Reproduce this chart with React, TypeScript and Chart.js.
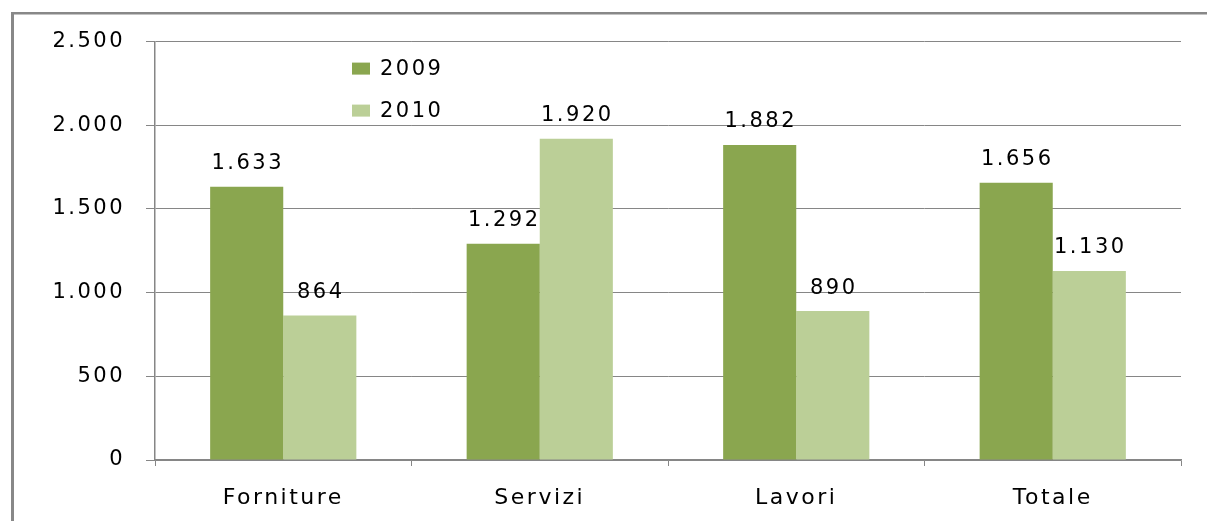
import React, { useEffect, useRef } from 'react';
import { Chart, registerables } from 'chart.js';

Chart.register(...registerables);

const categories = ['Forniture', 'Servizi', 'Lavori', 'Totale'];
const seriesNames = ['2009', '2010'];
const values2009 = [1633, 1292, 1882, 1656];
const values2010 = [864, 1920, 890, 1130];
const yTicks = [0, 500, 1000, 1500, 2000, 2500];

const colorDark = '#8aa64f';
const colorLight = '#bbcf97';
const gridColor = '#868686';
const FONT_FAMILY = '"DejaVu Sans", Verdana, sans-serif';
const SPACING = '2.5px';
const W = 1199;
const H = 513;

const fmt = (v: number) => String(v).replace(/\B(?=(\d{3})+(?!\d))/g, '.');

const spacingPlugin = {
  id: 'letterSpacing',
  beforeUpdate(chart: any) {
    (chart.ctx as any).letterSpacing = SPACING;
  },
  beforeLayout(chart: any) {
    (chart.ctx as any).letterSpacing = SPACING;
  },
  beforeDraw(chart: any) {
    const ctx = chart.ctx;
    (ctx as any).letterSpacing = SPACING;
    ctx.save();
    ctx.fillStyle = '#ffffff';
    ctx.fillRect(0, 0, chart.width, chart.height);
    ctx.fillStyle = '#888888';
    ctx.fillRect(3, 4, 3, chart.height);
    ctx.fillRect(3, 4, chart.width, 2.5);
    ctx.restore();
  },
};

const dataLabelPlugin = {
  id: 'dataLabels',
  afterDatasetsDraw(chart: any) {
    const ctx = chart.ctx;
    ctx.save();
    ctx.font = `21px ${FONT_FAMILY}`;
    (ctx as any).letterSpacing = SPACING;
    ctx.fillStyle = '#000';
    ctx.textAlign = 'center';
    ctx.textBaseline = 'middle';
    chart.data.datasets.forEach((ds: any, i: number) => {
      const meta = chart.getDatasetMeta(i);
      meta.data.forEach((el: any, j: number) => {
        ctx.fillText(fmt(ds.data[j]), el.x + 1, el.y - 23);
      });
    });
    ctx.restore();
  },
};

const legendPlugin = {
  id: 'customLegend',
  afterDraw(chart: any) {
    const { ctx, chartArea } = chart;
    ctx.save();
    ctx.font = `21px ${FONT_FAMILY}`;
    (ctx as any).letterSpacing = SPACING;
    ctx.textAlign = 'left';
    ctx.textBaseline = 'middle';
    chart.data.datasets.forEach((ds: any, i: number) => {
      const x = chartArea.left + 197;
      const y = chartArea.top + 27 + i * 42;
      ctx.fillStyle = ds.backgroundColor;
      ctx.fillRect(x, y - 6, 18, 12);
      ctx.fillStyle = '#000';
      ctx.fillText(ds.label, x + 28, y + 1);
    });
    ctx.restore();
  },
};

export default function App() {
  const ref = useRef<HTMLCanvasElement>(null);

  useEffect(() => {
    if (!ref.current) return;
    const chart = new Chart(ref.current, {
      type: 'bar',
      data: {
        labels: categories,
        datasets: [
          { label: seriesNames[0], data: values2009, backgroundColor: colorDark, borderWidth: 0 },
          { label: seriesNames[1], data: values2010, backgroundColor: colorLight, borderWidth: 0 },
        ],
      },
      options: {
        animation: false,
        responsive: false,
        devicePixelRatio: 1,
        layout: { padding: { top: 32, right: 26, left: 0, bottom: 0 } },
        datasets: { bar: { categoryPercentage: 0.57, barPercentage: 1.0 } },
        plugins: {
          legend: { display: false },
          tooltip: { enabled: false },
        },
        scales: {
          x: {
            afterFit: (s: any) => { s.height = 61; },
            grid: {
              drawOnChartArea: false,
              drawTicks: true,
              tickLength: 6,
              color: gridColor,
              lineWidth: 1,
            },
            border: { display: true, color: gridColor, width: 1.5 },
            ticks: {
              color: '#000',
              padding: 19,
              font: { family: FONT_FAMILY, size: 22 },
            },
          },
          y: {
            min: 0,
            max: 2500,
            afterFit: (s: any) => { s.width = 147; },
            afterBuildTicks: (s: any) => { s.ticks = yTicks.map((v) => ({ value: v })); },
            grid: {
              drawOnChartArea: true,
              drawTicks: true,
              tickLength: 9,
              color: gridColor,
              lineWidth: 1,
            },
            border: { display: true, color: gridColor, width: 1.5 },
            ticks: {
              color: '#000',
              padding: 21,
              font: { family: FONT_FAMILY, size: 21 },
              callback: (v: any) => fmt(Number(v)),
            },
          },
        },
      },
      plugins: [spacingPlugin, dataLabelPlugin, legendPlugin],
    });
    return () => chart.destroy();
  }, []);

  return (
    <div style={{ position: 'fixed', left: 8, top: 8, width: W, height: H, overflow: 'hidden', background: '#fff' }}>
      <canvas ref={ref} width={W} height={H} style={{ display: 'block', width: W, height: H }} />
    </div>
  );
}
